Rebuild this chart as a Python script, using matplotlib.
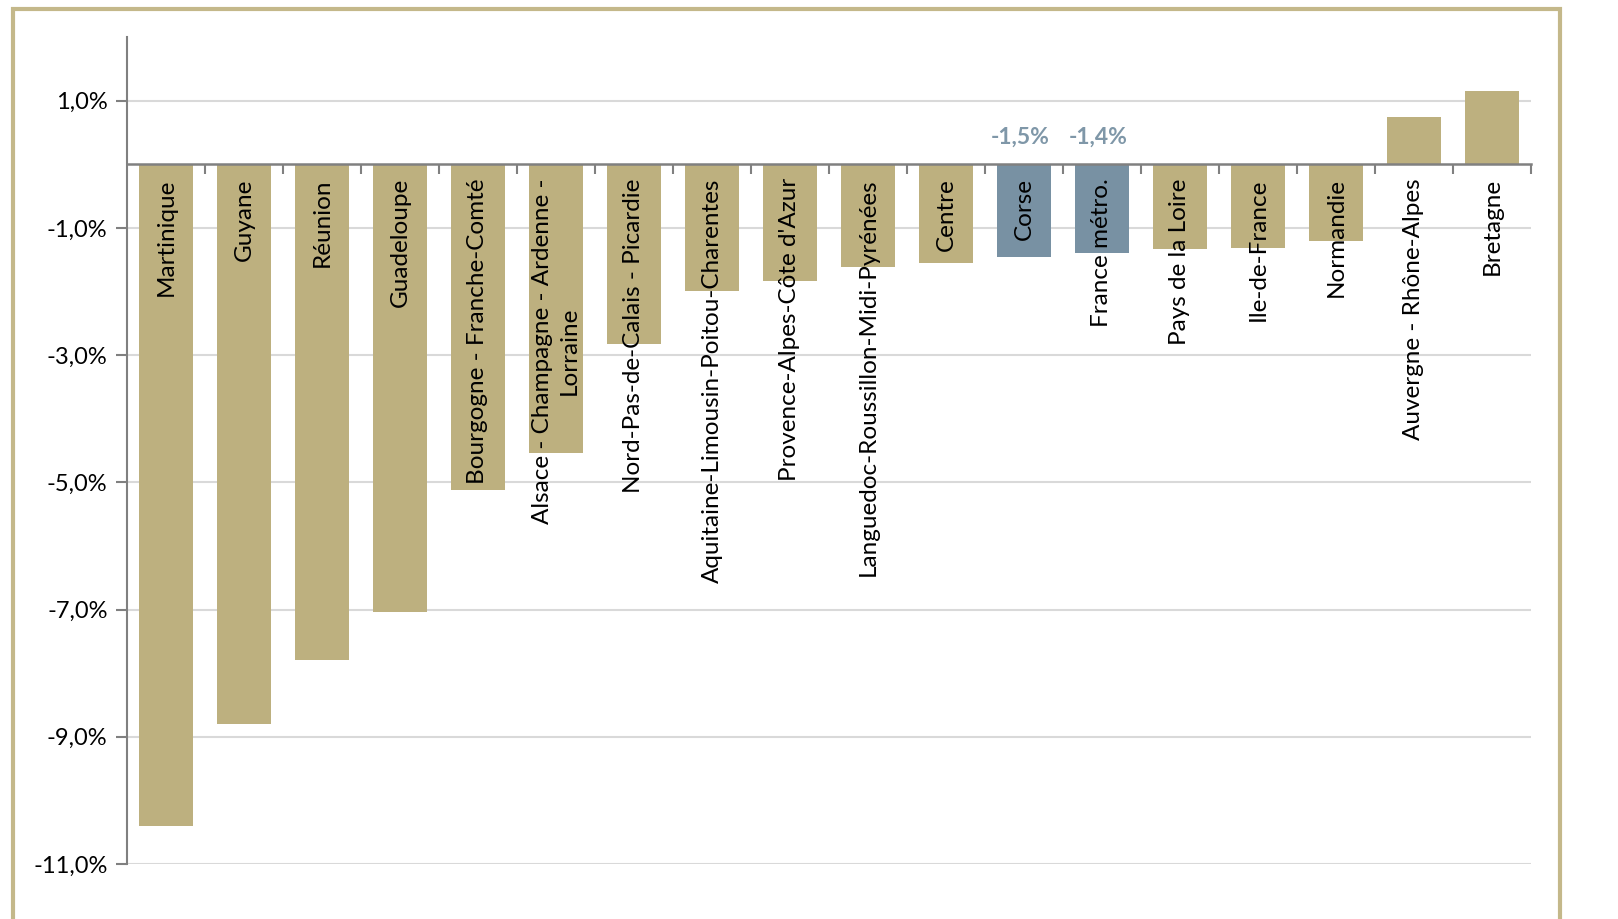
import matplotlib.pyplot as plt
from matplotlib.patches import Rectangle
from matplotlib.ticker import FixedLocator

regions = [
    "Martinique", "Guyane", "Réunion", "Guadeloupe",
    "Bourgogne - Franche-Comté", "Alsace - Champagne - Ardenne -\nLorraine",
    "Nord-Pas-de-Calais - Picardie", "Aquitaine-Limousin-Poitou-Charentes",
    "Provence-Alpes-Côte d'Azur", "Languedoc-Roussillon-Midi-Pyrénées",
    "Centre", "Corse", "France métro.", "Pays de la Loire", "Ile-de-France",
    "Normandie", "Auvergne - Rhône-Alpes", "Bretagne",
]
evolution = [
    -10.4, -8.8, -7.8, -7.04, -5.12, -4.54, -2.83, -2.0, -1.84, -1.62,
    -1.55, -1.46, -1.40, -1.34, -1.31, -1.2, 0.75, 1.15,
]
highlighted = ["Corse", "France métro."]
yticks = [-11, -9, -7, -5, -3, -1, 1]

GOLD = "#BDB07F"
BLUE = "#7891A3"

plt.rcParams["font.family"] = ["Lato", "DejaVu Sans"]

fig = plt.figure(figsize=(16.18, 9.19), dpi=100)
ax = fig.add_axes([127 / 1618, 1 - 864 / 919, 1404 / 1618, 827 / 919])

x = list(range(len(regions)))
colors = [BLUE if r in highlighted else GOLD for r in regions]
ax.bar(x, evolution, width=0.7, color=colors, zorder=2)

ax.set_xlim(-0.5, len(regions) - 0.5)
ax.set_ylim(-11, 2)
ax.set_yticks(yticks)
ax.set_yticklabels([f"{t:.1f}".replace(".", ",") + "%" for t in yticks], fontsize=17)
ax.yaxis.grid(True, color="#D9D9D9", lw=1.5, zorder=0)
ax.tick_params(axis="y", length=8, width=1.5, color="#808080", pad=6)

for s in ["top", "right"]:
    ax.spines[s].set_visible(False)
ax.spines["left"].set_color("#808080")
ax.spines["left"].set_linewidth(1.5)
ax.spines["bottom"].set_position(("data", 0))
ax.spines["bottom"].set_color("#808080")
ax.spines["bottom"].set_linewidth(1.8)
ax.spines["bottom"].set_zorder(3)
ax.xaxis.set_major_locator(FixedLocator([i + 0.5 for i in x]))
ax.set_xticklabels([])
ax.tick_params(axis="x", length=7, width=1.5, color="#808080", direction="out")

for i, name in enumerate(regions):
    ax.text(i, -0.22, name, rotation=90, ha="center", va="top",
            fontsize=17.5, color="black", multialignment="center",
            linespacing=1.3, zorder=4)
    if name in highlighted:
        lbl = f"{evolution[i]:.1f}".replace(".", ",") + "%"
        ax.text(i - 0.05, 0.42, lbl, ha="center", va="center", fontsize=16.5,
                fontweight="bold", color="#7F97A8")

fig.patches.append(Rectangle((13 / 1618, -0.05), 1547 / 1618, 1.05 - 9 / 919,
                             transform=fig.transFigure, fill=False,
                             edgecolor="#C4B88A", lw=3, clip_on=False))

fig.savefig("out.png", dpi=100)
